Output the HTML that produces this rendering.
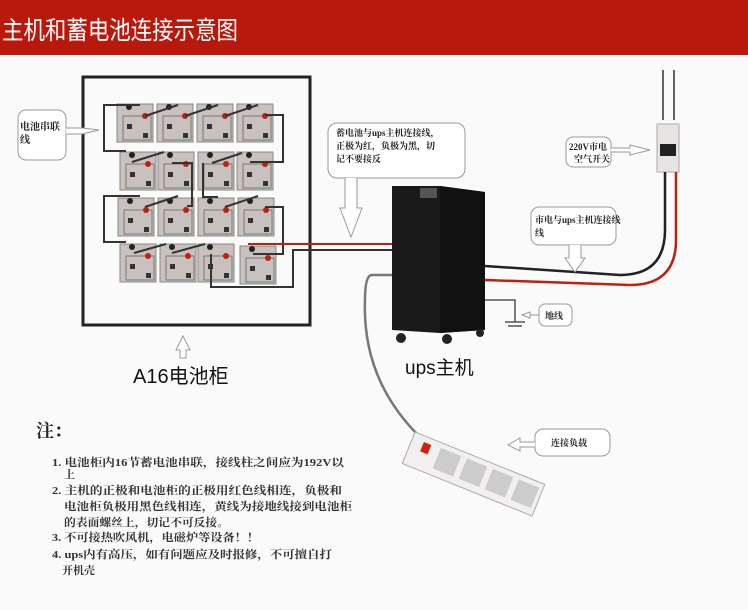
<!DOCTYPE html>
<html><head><meta charset="utf-8"><style>
body{margin:0;background:#fafafa;}
svg{display:block;font-family:"Liberation Serif","Noto Serif CJK SC",serif;}
</style></head><body>
<svg width="748" height="610" viewBox="0 0 748 610" xmlns="http://www.w3.org/2000/svg">
<rect width="748" height="610" fill="#fafafa"/>
<rect width="748" height="55" fill="#b8190c"/>
<text x="2" y="39" font-family="Liberation Sans,Noto Sans CJK SC,sans-serif" font-size="25" textLength="236" lengthAdjust="spacingAndGlyphs" fill="#fff">主机和蓄电池连接示意图</text>

<!-- cabinet -->
<rect x="83" y="77" width="227" height="248" fill="none" stroke="#222" stroke-width="3"/>
<g id="bats">
<defs>
<g id="b">
<rect x="0" y="0" width="36" height="38" fill="#c9c1be" stroke="#888"/>
<rect x="6" y="12" width="28" height="24" fill="none" stroke="#777"/>
<rect x="10" y="20" width="5" height="5" fill="#333"/>
<rect x="26" y="29" width="5" height="5" fill="#333"/>
<circle cx="28" cy="12" r="3" fill="#c02010"/>
<circle cx="12" cy="3" r="3" fill="#222"/>
</g>
</defs>
<use href="#b" x="117" y="104"/><use href="#b" x="157" y="104"/><use href="#b" x="197" y="104"/><use href="#b" x="237" y="104"/>
<use href="#b" x="120" y="152"/><use href="#b" x="158" y="152"/><use href="#b" x="198" y="152"/><use href="#b" x="237" y="152"/>
<use href="#b" x="118" y="198"/><use href="#b" x="158" y="198"/><use href="#b" x="198" y="198"/><use href="#b" x="238" y="198"/>
<use href="#b" x="120" y="244"/><use href="#b" x="160" y="244"/><use href="#b" x="198" y="244"/><use href="#b" x="240" y="246"/>
</g>
<g fill="none" stroke="#333" stroke-width="2">
<path d="M140 105 H104 V151 H126"/>
<path d="M145 116 L178 105 M185 116 L218 105 M225 116 L258 105"/>
<path d="M265 115 H283 V162 H250"/>
<path d="M132 162 L164 152 M172 163 L192 163 V206 H187"/>
<path d="M212 163 L242 153 M203 163 V197 H218"/>
<path d="M140 196 H104 V242 H126"/>
<path d="M145 207 L178 196 M225 207 L258 196 M265 207 H283 V254 H253"/>
<path d="M134 253 L166 244 M172 253 L205 244"/>
<path d="M211 254 V287 H293 V250 H392"/>
</g>
<path d="M248 244 H392" stroke="#c02010" stroke-width="2"/>
<!-- callout 电池串联线 -->
<rect x="18" y="110" width="48" height="50" rx="8" fill="#fff" stroke="#999"/>
<text x="20" y="130" font-size="10" font-weight="bold" fill="#222">电池串联</text>
<text x="20" y="143" font-size="10" font-weight="bold" fill="#222">线</text>
<path d="M66 128 H82 L99 130 L82 134 H66" fill="#fff" stroke="#999"/>
<text x="133" y="383" font-family="Liberation Sans,Noto Sans CJK SC,sans-serif" font-size="20" fill="#111">A16电池柜</text>
<path d="M176 350 L183 336 L190 350 H186 V358 H180 V350Z" fill="#fff" stroke="#999"/>

<!-- callout battery-ups -->
<rect x="328" y="123" width="137" height="55" rx="9" fill="#fff" stroke="#999"/>
<text x="336" y="136" font-size="9" font-weight="bold" fill="#222">蓄电池与ups主机连接线，</text>
<text x="336" y="149" font-size="9" font-weight="bold" fill="#222">正极为红，负极为黑，切</text>
<text x="336" y="162" font-size="9" font-weight="bold" fill="#222">记不要接反</text>
<path d="M345 178 V208 H340 L351 237 L362 208 H357 V178" fill="#fff" stroke="#999"/>

<!-- ups -->
<path d="M392 186 L440 186 L485 192 L485 330 L440 333 L392 330Z" fill="#1a1a1a"/>
<path d="M440 186 L485 192 L485 330 L440 333Z" fill="#111"/>
<rect x="420" y="188" width="17" height="10" fill="#555"/>
<circle cx="401" cy="338" r="5" fill="#222"/><circle cx="447" cy="339" r="5" fill="#222"/><circle cx="480" cy="333" r="4" fill="#222"/>
<text x="405" y="374" font-family="Liberation Sans,Noto Sans CJK SC,sans-serif" font-size="19" fill="#111">ups主机</text>

<!-- mains -->
<path d="M663 70 V120 M674 70 V120" stroke="#333" stroke-width="1.5"/>
<rect x="657" y="124" width="22" height="48" fill="#e8e4e4" stroke="#aaa"/>
<rect x="660" y="144" width="16" height="12" fill="#222"/>
<path d="M665 172 V230 Q665 275 620 275 L485 266" fill="none" stroke="#222" stroke-width="2.5"/>
<path d="M676 172 V240 Q676 285 630 285 L485 280" fill="none" stroke="#c02010" stroke-width="2.5"/>
<rect x="566" y="137" width="45" height="30" rx="7" fill="#fff" stroke="#999"/>
<text x="569" y="150" font-size="9" font-weight="bold" fill="#222">220V市电</text>
<text x="574" y="162" font-size="9" font-weight="bold" fill="#222">空气开关</text>
<path d="M611 148 H630 V145 L650 150 L630 155 V152 H611" fill="#fff" stroke="#999"/>
<rect x="531" y="207" width="85" height="38" rx="8" fill="#fff" stroke="#999"/>
<text x="535" y="223" font-size="9" font-weight="bold" fill="#222">市电与ups主机连接线</text>
<text x="535" y="236" font-size="9" font-weight="bold" fill="#222">线</text>
<path d="M569 245 V258 H565 L575 272 L585 258 H581 V245" fill="#fff" stroke="#999"/>
<!-- ground -->
<path d="M485 300 H515 V322 M505 322 H525 M508 326 H522" fill="none" stroke="#555" stroke-width="1.5"/>
<rect x="539" y="304" width="33" height="22" rx="6" fill="#fff" stroke="#999"/>
<text x="545" y="319" font-size="9" font-weight="bold" fill="#222">地线</text>
<path d="M539 315 H530 V312 L522 315 L530 318 V315" fill="#fff" stroke="#999"/>

<!-- cable to strip -->
<path d="M392 275 H372 Q365 275 365 300 Q362 380 420 437" fill="none" stroke="#777" stroke-width="2.5"/>
<g transform="translate(415 432) rotate(22)">
<rect x="0" y="0" width="140" height="34" fill="#f2efee" stroke="#aaa"/>
<rect x="12" y="6" width="8" height="10" fill="#d02010"/>
<rect x="30" y="5" width="22" height="22" fill="#ccc"/><rect x="58" y="5" width="22" height="22" fill="#ccc"/>
<rect x="86" y="5" width="22" height="22" fill="#ccc"/><rect x="114" y="5" width="22" height="22" fill="#ccc"/>
</g>
<rect x="535" y="429" width="75" height="27" rx="8" fill="#fff" stroke="#999"/>
<text x="551" y="446" font-size="9" font-weight="bold" fill="#222">连接负载</text>
<path d="M535 442 H520 V438 L508 445 L520 451 V447 H535" fill="#fff" stroke="#999"/>

<!-- notes -->
<text x="36" y="437" font-size="18" font-weight="bold" fill="#222">注：</text>
<g font-size="11" font-weight="bold" fill="#333">
<text x="52" y="466" textLength="292" lengthAdjust="spacingAndGlyphs">1. 电池柜内16节蓄电池串联，接线柱之间应为192V以</text>
<text x="64" y="478">上</text>
<text x="52" y="494" textLength="290" lengthAdjust="spacingAndGlyphs">2. 主机的正极和电池柜的正极用红色线相连，负极和</text>
<text x="64" y="510" textLength="288" lengthAdjust="spacingAndGlyphs">电池柜负极用黑色线相连，黄线为接地线接到电池柜</text>
<text x="64" y="526" textLength="165" lengthAdjust="spacingAndGlyphs">的表面螺丝上，切记不可反接。</text>
<text x="52" y="541" textLength="207" lengthAdjust="spacingAndGlyphs">3. 不可接热吹风机，电磁炉等设备！！</text>
<text x="52" y="558" textLength="280" lengthAdjust="spacingAndGlyphs">4. ups内有高压，如有问题应及时报修，不可擅自打</text>
<text x="62" y="574">开机壳</text>
</g>
</svg>
</body></html>
